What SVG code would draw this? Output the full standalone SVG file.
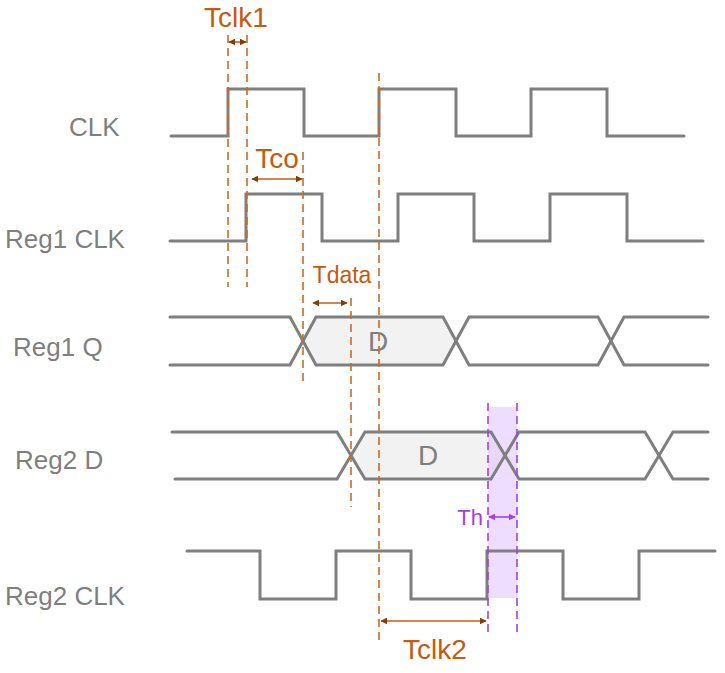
<svg xmlns="http://www.w3.org/2000/svg" width="725" height="673" viewBox="0 0 725 673">
<defs>
<style>
.wave{fill:none;stroke:#7f7f7f;stroke-width:3;stroke-linejoin:miter;stroke-linecap:round}
.fillD{fill:#f2f2f2;stroke:none}
.lbl{font-family:"Liberation Sans",Arial,sans-serif;font-size:26px;fill:#7f7f7f}
.dtxt{font-family:"Liberation Sans",Arial,sans-serif;font-size:28px;fill:#7f7f7f;text-anchor:middle}
.otxt{font-family:"Liberation Sans",Arial,sans-serif;fill:#c55a11;text-anchor:middle}
.ptxt{font-family:"Liberation Sans",Arial,sans-serif;fill:#a040e8;font-size:22px;text-anchor:end}
.odash{stroke:#d0691f;stroke-width:1.6;stroke-dasharray:8 5;fill:none}
.pdash{stroke:#a040f0;stroke-width:1.6;stroke-dasharray:8 5;fill:none}
.oarr{stroke:#c0601a;stroke-width:1.6;fill:none;marker-start:url(#ah);marker-end:url(#ah)}
.parr{stroke:#a040f0;stroke-width:1.6;fill:none;marker-start:url(#ahp);marker-end:url(#ahp)}
</style>
<marker id="ah" viewBox="0 0 10 10" refX="9" refY="5" markerWidth="7" markerHeight="7" markerUnits="userSpaceOnUse" orient="auto-start-reverse">
<path d="M0,0 L10,5 L0,10 z" fill="#843c0c"/>
</marker>
<marker id="ahp" viewBox="0 0 10 10" refX="9" refY="5" markerWidth="7" markerHeight="7" markerUnits="userSpaceOnUse" orient="auto-start-reverse">
<path d="M0,0 L10,5 L0,10 z" fill="#a040f0"/>
</marker>
</defs>
<rect x="0" y="0" width="725" height="673" fill="#ffffff"/>

<g id="clk">
<text class="lbl" x="69" y="136">CLK</text>
<path class="wave" d="M171,136 H228 V89 H304 V136 H379 V89 H456 V136 H531 V89 H607 V136 H684"/>
</g>

<g id="reg1clk">
<text class="lbl" x="5" y="248">Reg1 CLK</text>
<path class="wave" d="M170,241 H246 V194 H322 V241 H398 V194 H474 V241 H550 V194 H627 V241 H703"/>
</g>

<g id="reg1q">
<text class="lbl" x="13" y="356">Reg1 Q</text>
<polygon class="fillD" points="303,341 316,317 443,317 456,341 443,365 316,365"/>
<path class="wave" d="M170,317 H290 L316,365 H443 L469,317 H598 L624,365 H708"/>
<path class="wave" d="M170,365 H290 L316,317 H443 L469,365 H598 L624,317 H708"/>
<text class="dtxt" x="378" y="351">D</text>
</g>

<g id="reg2d">
<text class="lbl" x="15" y="469">Reg2 D</text>
<polygon class="fillD" points="351,455.5 365,432 491,432 505,455.5 491,479 365,479"/>
<rect x="488" y="407" width="29" height="191" fill="#ddbbff" opacity="0.5"/>
<path class="wave" d="M172,432 H337 L365,479 H491 L519,432 H645 L673,479 H708"/>
<path class="wave" d="M175,479 H337 L365,432 H491 L519,479 H645 L673,432 H708"/>
<text class="dtxt" x="428" y="465">D</text>
</g>

<g id="reg2clk">
<text class="lbl" x="5" y="605">Reg2 CLK</text>
<path class="wave" d="M187,551 H260 V599 H336 V551 H411 V599 H487 V551 H563 V599 H639 V551 H715"/>
</g>

<g id="connectors">
<line class="odash" x1="228" y1="35" x2="228" y2="287"/>
<line class="odash" x1="247" y1="35" x2="247" y2="287"/>
<line class="oarr" x1="229" y1="42" x2="246" y2="42"/>
<text class="otxt" x="236" y="27" font-size="28">Tclk1</text>

<line class="odash" x1="303" y1="152" x2="303" y2="386"/>
<line class="oarr" x1="252" y1="179" x2="302" y2="179"/>
<text class="otxt" x="277" y="168" font-size="28">Tco</text>

<line class="odash" x1="379" y1="73" x2="379" y2="643"/>

<line class="odash" x1="351" y1="298" x2="351" y2="507"/>
<line class="oarr" x1="313" y1="303" x2="347" y2="303"/>
<text class="otxt" x="342" y="283" font-size="23">Tdata</text>

<line class="oarr" x1="381" y1="621" x2="486" y2="621"/>
<text class="otxt" x="435" y="659" font-size="28">Tclk2</text>

<line class="pdash" x1="488" y1="403" x2="488" y2="637"/>
<line class="pdash" x1="517" y1="403" x2="517" y2="637"/>
<line class="parr" x1="489" y1="517" x2="515" y2="517"/>
<text class="ptxt" x="483" y="525">Th</text>
</g>
</svg>
